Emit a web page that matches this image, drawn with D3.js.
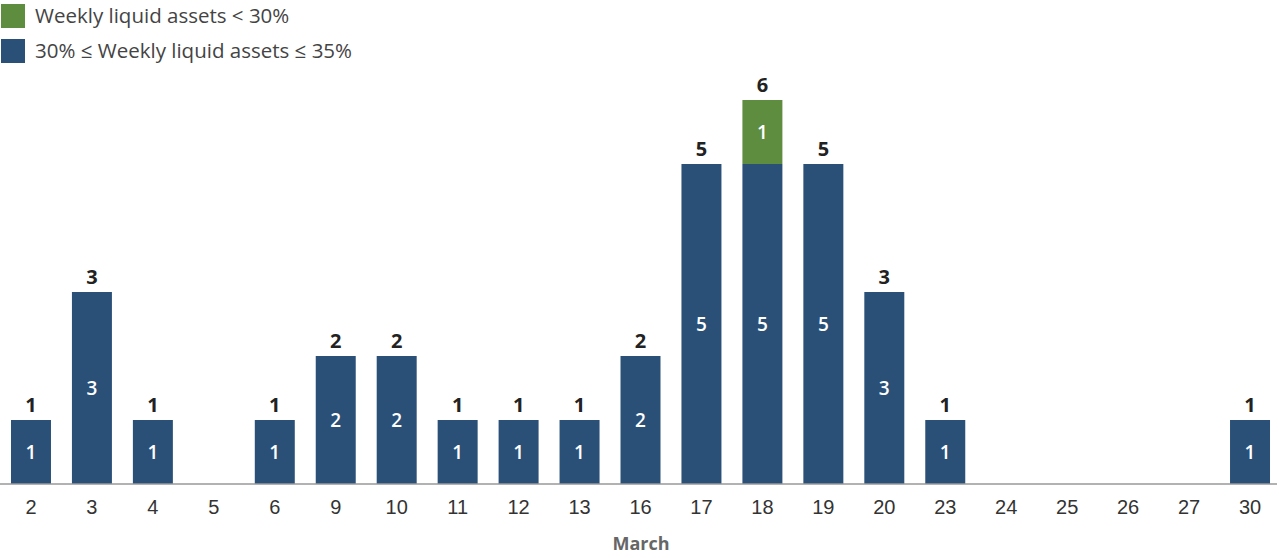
<!DOCTYPE html>
<html><head><meta charset="utf-8">
<script src="https://cdn.jsdelivr.net/npm/d3@7"></script>
<style>body{margin:0;background:#fff;}svg{display:block;font-family:"Open Sans","Noto Sans",sans-serif;}</style>
</head><body>
<svg id="c" width="1279" height="558"></svg>
<script>
const days = ["2","3","4","5","6","9","10","11","12","13","16","17","18","19","20","23","24","25","26","27","30"];
const between30and35 = [1,3,1,0,1,2,2,1,1,1,2,5,5,5,3,1,0,0,0,0,1];
const below30 = [0,0,0,0,0,0,0,0,0,0,0,0,1,0,0,0,0,0,0,0,0];
const seriesNames = ["Weekly liquid assets < 30%", "30% \u2264 Weekly liquid assets \u2264 35%"];
const colors = {blue:"#2a5078", green:"#5e8d3f"};

const svg = d3.select("#c");
const x = d3.scaleBand().domain(days).range([0.5, 1280.5]).paddingInner(0.344).paddingOuter(0.172);
const y = d3.scaleLinear().domain([0, 6]).range([484, 100]);

const data = days.map((d,i)=>({day:d, b:between30and35[i], g:below30[i]}));
const stack = d3.stack().keys(["b","g"])(data);
const fillFor = {b:colors.blue, g:colors.green};

stack.forEach(layer=>{
  const gr = svg.append("g");
  gr.selectAll("rect").data(layer.filter(d=>d[1]>d[0])).join("rect")
    .attr("x", d=>x(d.data.day)).attr("width", x.bandwidth())
    .attr("y", d=>y(d[1])).attr("height", d=>y(d[0])-y(d[1]))
    .attr("fill", fillFor[layer.key]);
  gr.selectAll("text").data(layer.filter(d=>d[1]>d[0])).join("text")
    .attr("x", d=>x(d.data.day)+x.bandwidth()/2)
    .attr("y", d=>(y(d[0])+y(d[1]))/2)
    .attr("dy","0.36em").attr("text-anchor","middle")
    .attr("fill","#fff").attr("font-size",19).attr("font-weight",600)
    .text(d=>d[1]-d[0]);
});

// totals
svg.append("g").selectAll("text").data(data.filter(d=>d.b+d.g>0)).join("text")
  .attr("x", d=>x(d.day)+x.bandwidth()/2)
  .attr("y", d=>y(d.b+d.g)-8)
  .attr("text-anchor","middle").attr("font-weight","bold").attr("font-size",20)
  .attr("fill","#222").text(d=>d.b+d.g);

// axis
const ax = svg.append("g").attr("transform","translate(0,484)")
  .call(d3.axisBottom(x).tickSize(0).tickPadding(16));
ax.select(".domain").attr("stroke","#999").attr("stroke-width",1.5).attr("d","M0,0H1277");
ax.selectAll("text").attr("font-size",20).attr("fill","#333").attr("font-family",null);

svg.append("text").attr("x",641).attr("y",544).attr("dy","0.36em").attr("text-anchor","middle")
  .attr("font-weight","bold").attr("font-size",18).attr("fill","#666").text("March");

// legend
const leg = svg.append("g");
[[seriesNames[0], colors.green],[seriesNames[1], colors.blue]].forEach((s,i)=>{
  leg.append("rect").attr("x",1).attr("y",4+i*35).attr("width",24).attr("height",24).attr("fill",s[1]);
  leg.append("text").attr("x",35).attr("y",16+i*35).attr("dy","0.36em")
    .attr("font-size",20.5).attr("fill","#444").text(s[0]);
});
</script>
</body></html>
